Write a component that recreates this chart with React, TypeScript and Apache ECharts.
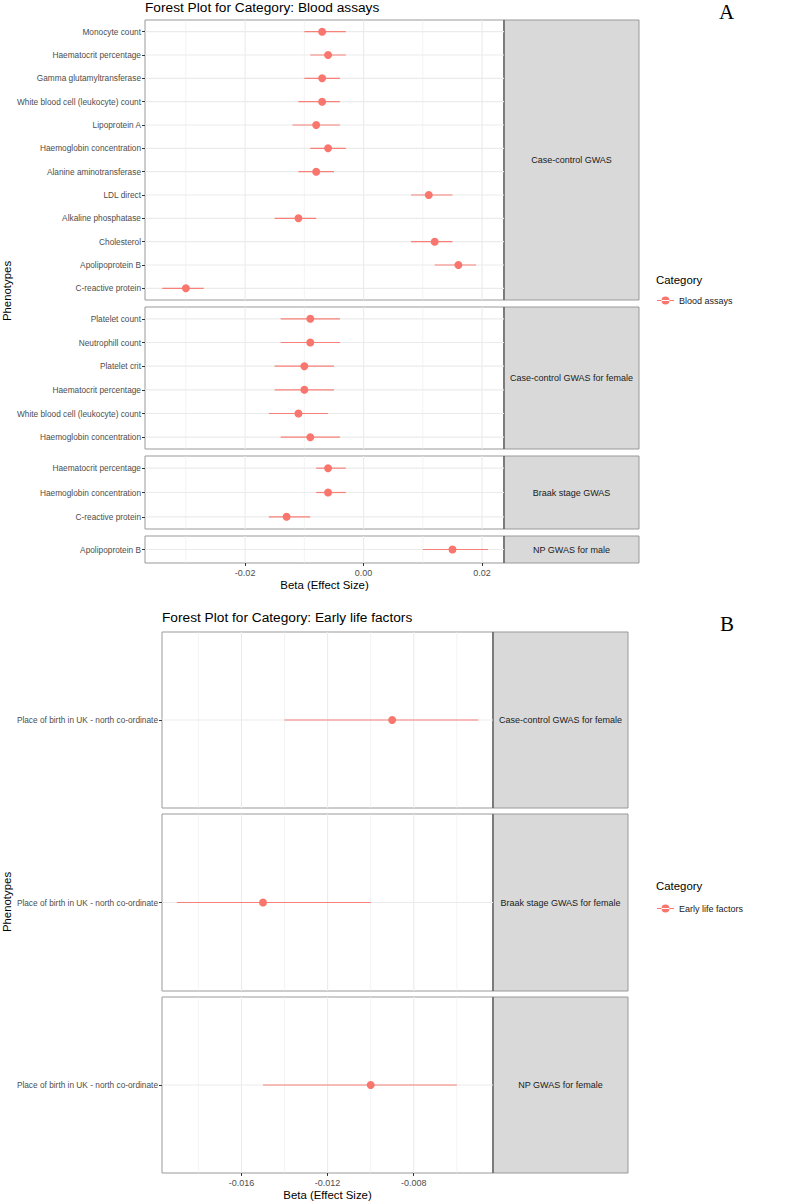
import React, { useEffect, useRef } from "react";
import * as echarts from "echarts";

// ---------------- DATA ----------------
// Panel A: Blood assays
const A1_NAMES = [
  "Monocyte count",
  "Haematocrit percentage",
  "Gamma glutamyltransferase",
  "White blood cell (leukocyte) count",
  "Lipoprotein A",
  "Haemoglobin concentration",
  "Alanine aminotransferase",
  "LDL direct",
  "Alkaline phosphatase",
  "Cholesterol",
  "Apolipoprotein B",
  "C-reactive protein",
];
const A1_BETA = [-0.007, -0.006, -0.007, -0.007, -0.008, -0.006, -0.008, 0.011, -0.011, 0.012, 0.016, -0.030];
const A1_LOWER = [-0.010, -0.009, -0.010, -0.011, -0.012, -0.009, -0.011, 0.008, -0.015, 0.008, 0.012, -0.034];
const A1_UPPER = [-0.003, -0.003, -0.004, -0.004, -0.004, -0.003, -0.005, 0.015, -0.008, 0.015, 0.019, -0.027];

const A2_NAMES = [
  "Platelet count",
  "Neutrophill count",
  "Platelet crit",
  "Haematocrit percentage",
  "White blood cell (leukocyte) count",
  "Haemoglobin concentration",
];
const A2_BETA = [-0.009, -0.009, -0.010, -0.010, -0.011, -0.009];
const A2_LOWER = [-0.014, -0.014, -0.015, -0.015, -0.016, -0.014];
const A2_UPPER = [-0.004, -0.004, -0.005, -0.005, -0.006, -0.004];

const A3_NAMES = ["Haematocrit percentage", "Haemoglobin concentration", "C-reactive protein"];
const A3_BETA = [-0.006, -0.006, -0.013];
const A3_LOWER = [-0.008, -0.008, -0.016];
const A3_UPPER = [-0.003, -0.003, -0.009];

const A4_NAMES = ["Apolipoprotein B"];
const A4_BETA = [0.015];
const A4_LOWER = [0.010];
const A4_UPPER = [0.021];

const A_STRIPS = ["Case-control GWAS", "Case-control GWAS for female", "Braak stage GWAS", "NP GWAS for male"];
const A_TICKS = [-0.02, 0, 0.02];
const A_MINOR = [-0.03, -0.01, 0.01];

// Panel B: Early life factors
const B_NAMES = ["Place of birth in UK - north co-ordinate"];
const B1_BETA = [-0.009];
const B1_LOWER = [-0.014];
const B1_UPPER = [-0.005];
const B2_BETA = [-0.015];
const B2_LOWER = [-0.019];
const B2_UPPER = [-0.010];
const B3_BETA = [-0.010];
const B3_LOWER = [-0.015];
const B3_UPPER = [-0.006];

const B_STRIPS = ["Case-control GWAS for female", "Braak stage GWAS for female", "NP GWAS for female"];
const B_TICKS = [-0.016, -0.012, -0.008];
const B_MINOR = [-0.018, -0.014, -0.010, -0.006];

// ---------------- STYLE / LAYOUT ----------------
const FONT = '"Liberation Sans", Arial, Helvetica, sans-serif';
const RED = "#F8766D";
const GRID_COL = "#ebebeb";
const BORDER = "#999999";

type Panel = {
  names: string[];
  beta: number[];
  lower: number[];
  upper: number[];
  strip: string;
  legend: string;
  top: number;
  height: number;
  left: number;
  width: number;
  min: number;
  max: number;
  ticks: number[];
  minor: number[];
  digits: number;
  bottom: boolean;
};

const A_GEOM = { left: 145, width: 359, min: -0.0369, max: 0.0237, ticks: A_TICKS, minor: A_MINOR, digits: 2, legend: "Blood assays" };
const B_GEOM = { left: 162, width: 331, min: -0.01969, max: -0.00432, ticks: B_TICKS, minor: B_MINOR, digits: 3, legend: "Early life factors" };

const panels: Panel[] = [
  { ...A_GEOM, names: A1_NAMES, beta: A1_BETA, lower: A1_LOWER, upper: A1_UPPER, strip: A_STRIPS[0], top: 20, height: 280, bottom: false },
  { ...A_GEOM, names: A2_NAMES, beta: A2_BETA, lower: A2_LOWER, upper: A2_UPPER, strip: A_STRIPS[1], top: 307, height: 142, bottom: false },
  { ...A_GEOM, names: A3_NAMES, beta: A3_BETA, lower: A3_LOWER, upper: A3_UPPER, strip: A_STRIPS[2], top: 456, height: 73, bottom: false },
  { ...A_GEOM, names: A4_NAMES, beta: A4_BETA, lower: A4_LOWER, upper: A4_UPPER, strip: A_STRIPS[3], top: 536, height: 27, bottom: true },
  { ...B_GEOM, names: B_NAMES, beta: B1_BETA, lower: B1_LOWER, upper: B1_UPPER, strip: B_STRIPS[0], top: 632, height: 176, bottom: false },
  { ...B_GEOM, names: B_NAMES, beta: B2_BETA, lower: B2_LOWER, upper: B2_UPPER, strip: B_STRIPS[1], top: 814, height: 177, bottom: false },
  { ...B_GEOM, names: B_NAMES, beta: B3_BETA, lower: B3_LOWER, upper: B3_UPPER, strip: B_STRIPS[2], top: 997, height: 176, bottom: true },
];

const STRIP_W = 135;
const LEGEND_ICON =
  "path://M0,3.5 L17,3.5 L17,4.5 L0,4.5 Z M4.5,4 A4,4 0 1 0 12.5,4 A4,4 0 1 0 4.5,4 Z";

function buildOption() {
  const grid: any[] = [];
  const xAxis: any[] = [];
  const yAxis: any[] = [];
  const series: any[] = [];
  const graphic: any[] = [];

  panels.forEach((p, i) => {
    grid.push({
      left: p.left,
      top: p.top,
      width: p.width,
      height: p.height,
      show: true,
      borderColor: BORDER,
      borderWidth: 1,
      backgroundColor: "#ffffff",
    });
    xAxis.push({
      gridIndex: i,
      type: "value",
      min: p.min,
      max: p.max,
      axisLine: { show: false, onZero: false },
      splitLine: { show: false },
      axisTick: {
        show: p.bottom,
        customValues: p.ticks,
        length: 3,
        lineStyle: { color: "#333333", width: 1 },
      },
      axisLabel: {
        show: p.bottom,
        customValues: p.ticks,
        formatter: (v: number) => v.toFixed(p.digits),
        fontSize: 9,
        color: "#4d4d4d",
        margin: 5,
        fontFamily: FONT,
      },
      name: p.bottom ? "Beta (Effect Size)" : "",
      nameLocation: "middle",
      nameGap: 16,
      nameTextStyle: { fontSize: 11.4, color: "#000000", fontFamily: FONT },
    });
    yAxis.push({
      gridIndex: i,
      type: "category",
      inverse: true,
      data: p.names,
      axisLine: { show: false, onZero: false },
      splitLine: { show: false },
      axisTick: { show: true, alignWithLabel: true, length: 3, lineStyle: { color: "#333333" } },
      axisLabel: { fontSize: 8.3, color: "#4d4d4d", margin: 4, fontFamily: FONT },
    });

    // vertical gridlines (major + minor), positioned through the x scale
    series.push({
      type: "custom",
      xAxisIndex: i,
      yAxisIndex: i,
      silent: true,
      clip: false,
      z: 1,
      encode: { x: 0, y: 1 },
      data: [...p.minor.map((v) => [v, 0, 0]), ...p.ticks.map((v) => [v, 0, 1])],
      renderItem: (params: any, api: any) => {
        const x = api.coord([api.value(0), 0])[0];
        const major = api.value(2) === 1;
        const cs = params.coordSys;
        return {
          type: "line",
          shape: { x1: x, y1: cs.y, x2: x, y2: cs.y + cs.height },
          style: { stroke: GRID_COL, lineWidth: major ? 1.1 : 0.6 },
        };
      },
    });

    // error bars + horizontal gridlines
    series.push({
      type: "custom",
      xAxisIndex: i,
      yAxisIndex: i,
      silent: true,
      z: 2,
      encode: { x: [0, 1], y: 2 },
      data: p.names.map((_, k) => [p.lower[k], p.upper[k], k]),
      renderItem: (params: any, api: any) => {
        const lo = api.value(0);
        const hi = api.value(1);
        const yi = api.value(2);
        const a = api.coord([lo, yi]);
        const b = api.coord([hi, yi]);
        const cs = params.coordSys;
        return {
          type: "group",
          children: [
            {
              type: "line",
              z2: 0,
              shape: { x1: cs.x, y1: a[1], x2: cs.x + cs.width, y2: a[1] },
              style: { stroke: GRID_COL, lineWidth: 1.1 },
            },
            {
              type: "line",
              z2: 1,
              shape: { x1: a[0], y1: a[1], x2: b[0], y2: b[1] },
              style: { stroke: RED, lineWidth: 1.2, opacity: 0.9 },
            },
          ],
        };
      },
    });

    // points
    series.push({
      type: "scatter",
      name: p.legend,
      xAxisIndex: i,
      yAxisIndex: i,
      z: 3,
      symbol: "circle",
      symbolSize: 8,
      itemStyle: { color: RED, opacity: 1 },
      data: p.beta.map((v, k) => [v, k]),
    });

    // facet strip
    const sx = p.left + p.width;
    graphic.push({
      type: "rect",
      shape: { x: sx, y: p.top, width: STRIP_W, height: p.height },
      style: { fill: "#d9d9d9", stroke: BORDER, lineWidth: 1 },
      silent: true,
    });
    graphic.push({
      type: "line",
      shape: { x1: sx, y1: p.top, x2: sx, y2: p.top + p.height },
      style: { stroke: "#555555", lineWidth: 1.2 },
      silent: true,
    });
    graphic.push({
      type: "text",
      x: sx + STRIP_W / 2,
      y: p.top + p.height / 2,
      silent: true,
      style: {
        text: p.strip,
        font: `9px ${FONT}`,
        fill: "#1a1a1a",
        align: "center",
        verticalAlign: "middle",
        textAlign: "center",
        textVerticalAlign: "middle",
      },
    });
  });

  // y-axis titles
  [{ y: 291 }, { y: 902 }].forEach((t) => {
    graphic.push({
      type: "text",
      x: 7,
      y: t.y,
      rotation: Math.PI / 2,
      silent: true,
      style: {
        text: "Phenotypes",
        font: `11.4px ${FONT}`,
        fill: "#000000",
        align: "center",
        verticalAlign: "middle",
        textAlign: "center",
        textVerticalAlign: "middle",
      },
    });
  });

  const titleStyle = { fontSize: 13.7, fontWeight: "normal", color: "#000000", fontFamily: FONT };
  const serif = { fontSize: 21, fontWeight: "normal", color: "#000000", fontFamily: '"Liberation Serif", "Times New Roman", serif' };
  const catStyle = { fontSize: 11.4, fontWeight: "normal", color: "#000000", fontFamily: FONT };

  return {
    animation: false,
    backgroundColor: "#ffffff",
    textStyle: { fontFamily: FONT },
    title: [
      { text: "Forest Plot for Category: Blood assays", left: 145, top: 0, padding: 0, textStyle: titleStyle },
      { text: "A", left: 719, top: 1, padding: 0, textStyle: serif },
      { text: "Category", left: 656, top: 274, padding: 0, textStyle: catStyle },
      { text: "Forest Plot for Category: Early life factors", left: 162, top: 610, padding: 0, textStyle: titleStyle },
      { text: "B", left: 720, top: 613, padding: 0, textStyle: serif },
      { text: "Category", left: 656, top: 880, padding: 0, textStyle: catStyle },
    ],
    legend: [
      {
        data: ["Blood assays"],
        left: 657,
        top: 296,
        padding: 0,
        icon: LEGEND_ICON,
        itemWidth: 17,
        itemHeight: 8,
        selectedMode: false,
        textStyle: { fontSize: 9, color: "#1a1a1a", fontFamily: FONT },
      },
      {
        data: ["Early life factors"],
        left: 657,
        top: 904,
        padding: 0,
        icon: LEGEND_ICON,
        itemWidth: 17,
        itemHeight: 8,
        selectedMode: false,
        textStyle: { fontSize: 9, color: "#1a1a1a", fontFamily: FONT },
      },
    ],
    grid,
    xAxis,
    yAxis,
    series,
    graphic,
  };
}

export default function App() {
  const ref = useRef<HTMLDivElement>(null);
  useEffect(() => {
    if (!ref.current) return;
    const chart = echarts.init(ref.current, null, { renderer: "svg" });
    chart.setOption(buildOption() as any);
    return () => {
      chart.dispose();
    };
  }, []);
  return (
    <div
      ref={ref}
      style={{ position: "absolute", left: 0, top: 0, width: 797, height: 1203, background: "#ffffff" }}
    />
  );
}
